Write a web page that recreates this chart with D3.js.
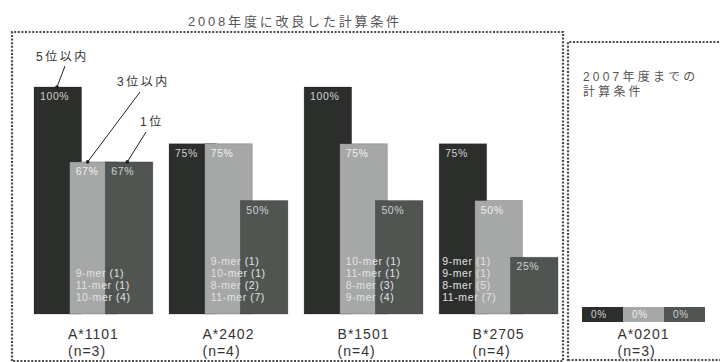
<!DOCTYPE html>
<html>
<head>
<meta charset="utf-8">
<script src="https://cdn.jsdelivr.net/npm/d3@7"></script>
<style>
  html, body { margin: 0; padding: 0; background: #fff; }
  svg { display: block; font-family: "Liberation Sans", Arial, "Noto Sans CJK JP", sans-serif; }
</style>
</head>
<body>
<svg id="chart" width="720" height="362"></svg>
<script>
// Improved conditions (2008) – hit rates per allele
const categories = ["A*1101", "A*2402", "B*1501", "B*2705"];
const sampleSizes = ["(n=3)", "(n=4)", "(n=4)", "(n=4)"];
const seriesNames = ["5位以内", "3位以内", "1位"];
const top5 = [1.00, 0.75, 1.00, 0.75];
const top3 = [0.67, 0.75, 0.75, 0.50];
const top1 = [0.67, 0.50, 0.50, 0.25];
const percentLabels = [
  ["100%", "67%", "67%"],
  ["75%", "75%", "50%"],
  ["100%", "75%", "50%"],
  ["75%", "50%", "25%"]
];
const peptideNotes = [
  ["9-mer (1)", "11-mer (1)", "10-mer (4)"],
  ["9-mer (1)", "10-mer (1)", "8-mer (2)", "11-mer (7)"],
  ["10-mer (1)", "11-mer (1)", "8-mer (3)", "9-mer (4)"],
  ["9-mer (1)", "9-mer (1)", "8-mer (5)", "11-mer (7)"]
];

// Previous conditions (up to 2007)
const oldCategories = ["A*0201"];
const oldSampleSizes = ["(n=3)"];
const oldValues = [[0, 0, 0]];
const oldPercentLabels = [["0%", "0%", "0%"]];

const titleNew = "2008年度に改良した計算条件";
const titleOld = ["2007年度までの", "計算条件"];

const colors = ["#2c2e2c", "#a5a8a6", "#515552"];
const textOnBar = ["#cfcfcf", "#f0f0f0", "#cfcfcf"];

const svg = d3.select("#chart");
const baseline = 314;

const y = d3.scaleLinear().domain([0, 1]).range([baseline, 87]);

const x = d3.scaleBand().domain(categories).range([34, 558]).paddingInner(0.12);
const barW = x.bandwidth() * 0.4;
const sub = d3.scalePoint().domain([0, 1, 2]).range([0, x.bandwidth() - barW]);

// dotted frames
const dotted = { stroke: "#4a4a4a", width: 2.2, dash: "2,1.6" };
function dottedPath(d) {
  svg.append("path").attr("d", d).attr("fill", "none")
    .attr("stroke", dotted.stroke).attr("stroke-width", dotted.width)
    .attr("stroke-dasharray", dotted.dash);
}
dottedPath("M12,361 L12,32 L563,32 L563,361 L12,361");
dottedPath("M568,361 L568,42 L722,42");
dottedPath("M568,360 L722,360");

// titles
svg.append("text").attr("x", 188).attr("y", 26).attr("font-size", 13)
  .attr("letter-spacing", 2.8).attr("fill", "#555").text(titleNew);
svg.append("g").selectAll("text").data(titleOld).join("text")
  .attr("x", 583).attr("y", (d, i) => 81 + i * 15)
  .attr("font-size", 12).attr("letter-spacing", 3.2).attr("fill", "#555").text(d => d);

const rows = categories.map((c, i) => ({
  cat: c, n: sampleSizes[i], vals: [top5[i], top3[i], top1[i]],
  pct: percentLabels[i], notes: peptideNotes[i]
}));

const groups = svg.append("g").selectAll("g").data(rows).join("g")
  .attr("transform", d => `translate(${x(d.cat)},0)`);

// bars, drawn left to right so each overlaps the previous one
groups.selectAll("rect").data(d => d.vals).join("rect")
  .attr("x", (v, i) => sub(i))
  .attr("y", v => y(v))
  .attr("width", barW)
  .attr("height", v => baseline - y(v))
  .attr("fill", (v, i) => colors[i])
  .attr("stroke", "rgba(0,0,0,0.25)").attr("stroke-width", 0.8);

// value labels at bar tops
groups.selectAll("text.pct").data(d => d.pct.map((p, i) => ({ p, v: d.vals[i], i }))).join("text")
  .attr("class", "pct")
  .attr("x", d => sub(d.i) + 6)
  .attr("y", d => y(d.v) + 13)
  .attr("font-size", 10.5).attr("letter-spacing", 0.6)
  .attr("fill", d => textOnBar[d.i]).text(d => d.p);

// peptide length notes near the bottom of the bars
const noteBar = { "A*1101": 1, "A*2402": 1, "B*1501": 1, "B*2705": 0 };
groups.each(function (d) {
  const g = d3.select(this);
  const n = d.notes.length;
  g.selectAll("text.note").data(d.notes).join("text")
    .attr("class", "note")
    .attr("x", sub(noteBar[d.cat]) + (noteBar[d.cat] ? 6 : 3))
    .attr("y", (t, j) => baseline - 13 - (n - 1 - j) * 12)
    .attr("font-size", 10.5).attr("letter-spacing", 0.6)
    .attr("fill", "#e2e2e2").text(t => t);
});

// category labels, left aligned as a block centred under each group
function categoryLabel(g, cx, name, n) {
  const t1 = g.append("text").attr("y", 339).attr("font-size", 14).attr("letter-spacing", 1)
    .attr("fill", "#333").text(name);
  const w = t1.node().getComputedTextLength();
  const left = cx - w / 2;
  t1.attr("x", left);
  g.append("text").attr("x", left).attr("y", 356).attr("font-size", 14).attr("letter-spacing", 1)
    .attr("fill", "#333").text(n);
}
rows.forEach(d => categoryLabel(svg, x(d.cat) + x.bandwidth() / 2, d.cat, d.n));

// previous-conditions panel: zero-height results shown as a thin strip
const xOld = d3.scaleBand().domain(oldCategories).range([582, 705]);
const seg = d3.scaleBand().domain([0, 1, 2]).range([0, xOld.bandwidth()]);
const stripH = 15;
const oldG = svg.append("g").selectAll("g").data(oldCategories).join("g")
  .attr("transform", c => `translate(${xOld(c)},0)`);
oldG.selectAll("rect").data((c, k) => oldValues[k]).join("rect")
  .attr("x", (v, i) => seg(i))
  .attr("y", v => y(v) - 7)
  .attr("width", seg.bandwidth())
  .attr("height", v => baseline - y(v) + stripH)
  .attr("fill", (v, i) => colors[i]);
oldG.selectAll("text").data((c, k) => oldPercentLabels[k].map((p, i) => ({ p, i, v: oldValues[k][i] }))).join("text")
  .attr("x", d => seg(d.i) + 9)
  .attr("y", d => y(d.v) + 4)
  .attr("font-size", 10).attr("letter-spacing", 0.6)
  .attr("fill", d => textOnBar[d.i]).text(d => d.p);
oldCategories.forEach((c, k) => categoryLabel(svg, xOld(c) + xOld.bandwidth() / 2, c, oldSampleSizes[k]));

// series call-outs pointing at the first group's bars
const first = rows[0];
const gx = x(first.cat);
const callouts = [
  { label: seriesNames[0], tx: 36, ty: 61, from: [65, 66], bar: 0, dx: 23 },
  { label: seriesNames[1], tx: 117, ty: 86, from: [140, 92], bar: 1, dx: 18 },
  { label: seriesNames[2], tx: 140, ty: 126, from: [146, 132], bar: 2, dx: 22 }
];
callouts.forEach(c => {
  const px = gx + sub(c.bar) + c.dx;
  const py = y(first.vals[c.bar]);
  svg.append("line").attr("x1", c.from[0]).attr("y1", c.from[1]).attr("x2", px).attr("y2", py)
    .attr("stroke", "#222").attr("stroke-width", 1);
  svg.append("circle").attr("cx", px).attr("cy", py).attr("r", 1.8).attr("fill", "#222");
  svg.append("text").attr("x", c.tx).attr("y", c.ty).attr("font-size", 12)
    .attr("letter-spacing", 2.5).attr("fill", "#333").text(c.label);
});
</script>
</body>
</html>
